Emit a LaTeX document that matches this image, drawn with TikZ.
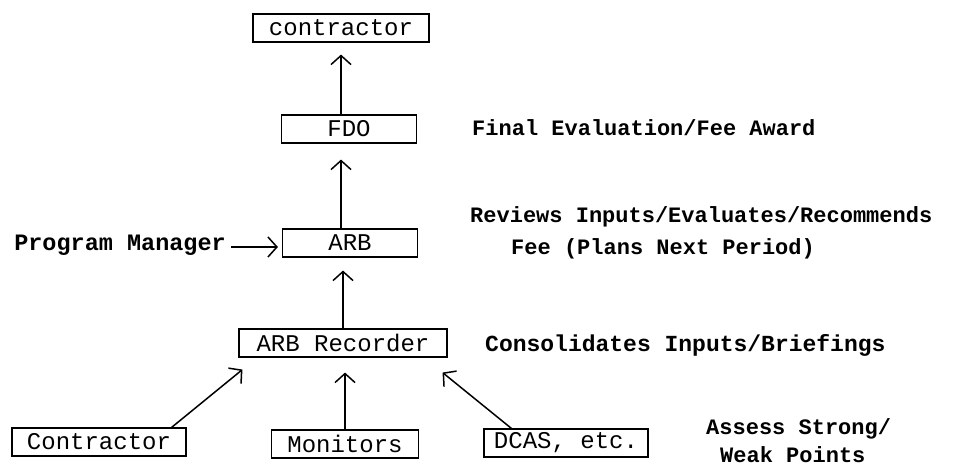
\documentclass[tikz,border=0pt]{standalone}
\usepackage{fontspec}
\setmainfont{Liberation Mono}
\usetikzlibrary{arrows.meta,calc}
\tikzset{
  box/.style={draw, line width=1.1pt, inner sep=0pt, minimum height=28pt,
    font=\fontsize{24}{26}\selectfont},
  lbl/.style={anchor=west, inner sep=0pt, font=\fontsize{22}{24}\selectfont\bfseries},
  arr/.style={line width=1.5pt, -{Straight Barb[length=9pt,width=20pt,line width=1.5pt]}},
}
\begin{document}
\begin{tikzpicture}[x=1pt,y=-1pt]
\useasboundingbox (0,0) rectangle (977,470);
% boxes
\node[box, minimum width=176pt] (top) at (341,28) {contractor};
\node[box, minimum width=135pt] (fdo) at (349,129) {FDO};
\node[box, minimum width=135pt] (arb) at (350,243) {ARB};
\node[box, minimum width=208pt] (rec) at (343,343) {ARB Recorder};
\node[box, minimum width=174pt] (con) at (99,442) {Contractor};
\node[box, minimum width=147pt] (mon) at (345,444) {Monitors};
\node[box, minimum width=164pt] (dcas) at (566,443) {DCAS, etc.};
% side labels
\node[lbl] (fin) at (472,128) {Final Evaluation/Fee Award};
\node[lbl] (rev1) at (470,217) {Reviews Inputs/Evaluates/Recommends};
\node[lbl] (rev2) at (511,249) {Fee (Plans Next Period)};
\node[lbl, font=\fontsize{23}{25}\selectfont\bfseries] (cons) at (485,345) {Consolidates Inputs/Briefings};
\node[lbl] (as1) at (706,429) {Assess Strong/};
\node[lbl] (as2) at (720,455) {Weak Points};
\node[anchor=east, inner sep=0pt, font=\fontsize{23.5}{25}\selectfont\bfseries] (pm) at (226,245) {Program Manager};
% connectors
\draw[arr] (fdo.north -| top.south) -- ($(top.south)+(0,12)$);
\draw[arr] (arb.north -| top.south) -- ($(fdo.south -| top.south)+(0,16)$);
\draw[arr] (rec.north -| rec.south) -- ($(arb.south -| rec.south)+(0,13)$);
\draw[arr] (mon.north) -- ($(mon.north |- rec.south)+(0,15)$);
\draw[arr] ($(con.north east)+(-15,0)$) -- ($(rec.south west)+(4,12)$);
\draw[arr] ($(dcas.north west)+(28,0)$) -- ($(rec.south east)+(-5,15)$);
\draw[arr] ($(pm.east)+(5,2)$) -- ($(arb.west)+(-4,4)$);
\end{tikzpicture}
\end{document}
